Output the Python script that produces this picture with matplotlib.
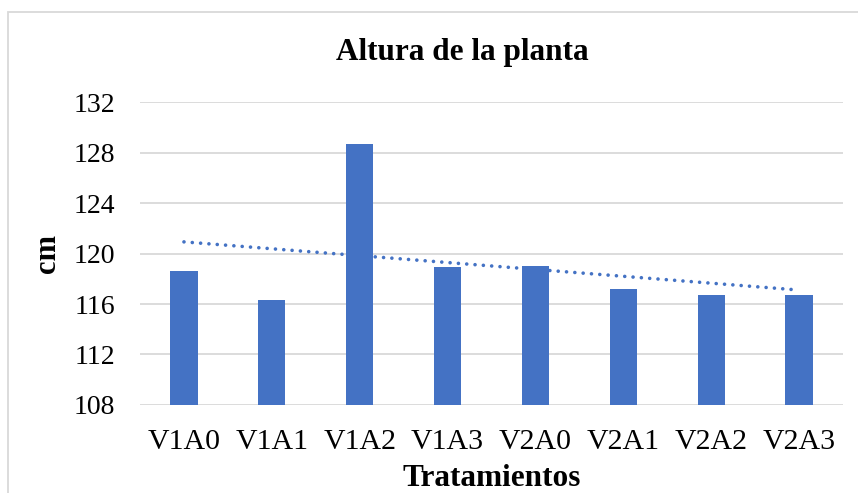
import numpy as np
import matplotlib
matplotlib.use('Agg')
import matplotlib.pyplot as plt
from matplotlib.patches import Rectangle

# data
treatments = ["V1A0", "V1A1", "V1A2", "V1A3", "V2A0", "V2A1", "V2A2", "V2A3"]
height_cm = [118.6, 116.35, 128.65, 118.9, 119.0, 117.2, 116.7, 116.7]
y_ticks = [108, 112, 116, 120, 124, 128, 132]

BAR = "#4472C4"
GRID = "#D9D9D9"

plt.rcParams["font.family"] = ["Liberation Serif", "DejaVu Serif"]

fig = plt.figure(figsize=(8.58, 4.93), dpi=100)
ax = fig.add_axes([0.1632, 0.1785, 0.8193, 0.6146])

x = np.arange(len(treatments))
ax.bar(x, height_cm, width=0.31, color=BAR, zorder=3)

# linear trend line (round dots)
slope, icpt = np.polyfit(x, height_cm, 1)
ax.plot(x, slope * x + icpt, linestyle=(0, (0.01, 2.3)), color=BAR,
        linewidth=2.6, dash_capstyle="round", zorder=4)

ax.set_ylim(y_ticks[0], y_ticks[-1])
ax.set_yticks(y_ticks)
ax.set_xlim(-0.5, len(treatments) - 0.5)
ax.set_xticks(x)
ax.set_xticklabels(treatments)
ax.tick_params(axis="y", length=0, labelsize=20, colors="black", pad=18)
ax.tick_params(axis="x", length=0, labelsize=21.5, colors="black", pad=17)
ax.yaxis.grid(True, color=GRID, linewidth=1.3, zorder=0)
ax.set_axisbelow(True)
for s in ax.spines.values():
    s.set_visible(False)

ax.set_xlabel("Tratamientos", fontsize=22.5, fontweight="bold", labelpad=7)
ax.set_ylabel("cm", fontsize=22, fontweight="bold", labelpad=8)
fig.text(0.539, 0.893, "Altura de la planta", fontsize=22.5, fontweight="bold",
         ha="center", va="center")

# chart area border
fig.patches.append(Rectangle((8 / 858, -0.1), 1.2, 1.1 - 12 / 493,
                             transform=fig.transFigure, fill=False,
                             edgecolor=GRID, linewidth=1.3))

fig.savefig("out.png", dpi=100, facecolor="white")
